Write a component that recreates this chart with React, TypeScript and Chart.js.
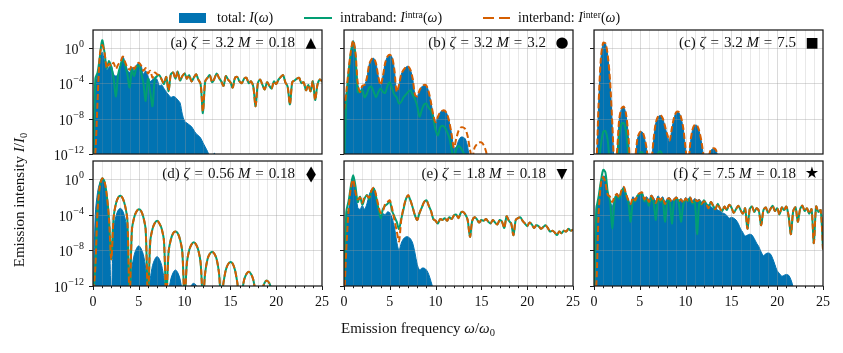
import React, { useEffect, useRef } from 'react';
import { Chart, registerables } from 'chart.js';

Chart.register(...registerables);

// ---------- data (log10 of I/I0), sampled on omega/omega0 ----------
const Z = -16; // far below the 1e-12 floor: nothing visible
const W = -13.5; // zero of a lobe (just below the floor)

const OMEGA = [
  0, 0.25, 0.5, 0.75, 1, 1.25, 1.5, 1.75, 2, 2.25, 2.5, 2.75, 3, 3.25, 3.5, 3.75, 4, 4.25, 4.5, 4.75,
  5, 5.25, 5.5, 5.75, 6, 6.25, 6.5, 6.75, 7, 7.25, 7.5, 7.75, 8, 8.25, 8.5, 8.75, 9, 9.25, 9.5, 9.75,
  10, 10.25, 10.5, 10.75, 11, 11.25, 11.5, 11.75, 12, 12.25, 12.5, 12.75, 13, 13.25, 13.5, 13.75, 14, 14.25, 14.5, 14.75,
  15, 15.25, 15.5, 15.75, 16, 16.25, 16.5, 16.75, 17, 17.25, 17.5, 17.75, 18, 18.25, 18.5, 18.75, 19, 19.25, 19.5, 19.75,
  20, 20.25, 20.5, 20.75, 21, 21.25, 21.5, 21.75, 22, 22.25, 22.5, 22.75, 23, 23.25, 23.5, 23.75, 24, 24.25, 24.5, 24.75,
  25,
];

const X_TICKS = [0, 1, 2, 3, 4, 5, 6, 7, 8, 9, 10, 11, 12, 13, 14, 15, 16, 17, 18, 19, 20, 21, 22, 23, 24, 25];
const X_LABELED = [0, 5, 10, 15, 20, 25];
const Y_TICKS = [-12, -8, -4, 0];

// (a) zeta=3.2, M=0.18
const A_TOTAL = [
  -14, -4, -3, -1.5, -0.5, -1.5, -2.5, -2.2, -2.0, -3.0, -3.2, -3.0, -2.0, -1.0, -1.6, -2.5, -2.8, -2.2, -2.6, -2.0,
  -1.7, -2.0, -3.0, -2.6, -3.2, -3.8, -3.6, -3.4, -3.6, -4.3, -4.2, -4.6, -5.0, -5.3, -5.6, -5.5, -5.6, -5.9, -6.2, -7.5,
  -8.3, -8.5, -8.7, -8.9, -9.3, -9.7, -9.9, -10.2, -10.7, -11.2, -11.7, -12.3, -12.5, -11.9, -12.5, Z, Z, Z, Z, Z,
  Z, Z, Z, Z, Z, Z, Z, Z, Z, Z, Z, Z, Z, Z, Z, Z, Z, Z, Z, Z,
  Z, Z, Z, Z, Z, Z, Z, Z, Z, Z, Z, Z, Z, Z, Z, Z, Z, Z, Z, Z,
  Z,
];
const A_INTRA = [
  -14, -3.5, -2.8, -1.0, 0.85, -0.5, -2.3, -1.5, -2.2, -3.5, -5.5, -3.0, -2.0, -1.3, -2.0, -3.0, -4.5, -2.5, -3.2, -2.2,
  -2.0, -2.8, -4.0, -6.0, -3.5, -5.0, -6.6, -3.5, -3.2, -3.1, -3.6, -4.1, -3.3, -4.9, -3.0, -2.8, -3.5, -2.7, -3.7, -3.2,
  -2.9, -3.5, -3.1, -3.8, -3.4, -3.0, -3.6, -4.1, -7.4, -3.8, -3.4, -3.1, -3.9, -3.5, -2.9, -3.4, -3.8, -4.3, -3.2, -3.6,
  -3.9, -4.5, -3.4, -3.3, -3.8, -4.0, -3.5, -3.4, -4.0, -3.8, -4.4, -6.6, -4.0, -3.6, -4.2, -4.7, -3.9, -4.3, -4.6, -3.8,
  -4.1, -3.6, -3.3, -3.1, -3.9, -4.4, -6.4, -3.9, -3.7, -3.5, -3.4, -4.0, -3.9, -4.8, -4.2, -4.9, -3.8, -5.9, -4.2, -3.6,
  -3.8,
];
const A_INTER = [
  -14, -12, -6, -0.8, 0.3, -0.5, -2.3, -1.8, -2.1, -1.7, -2.4, -1.9, -1.6, -1.0, -1.6, -2.2, -2.5, -2.0, -2.4, -1.9,
  -1.7, -2.0, -2.6, -2.3, -2.9, -2.6, -3.4, -2.8, -3.0, -3.1, -3.6, -4.0, -3.3, -4.8, -3.0, -2.8, -3.5, -2.7, -3.7, -3.2,
  -2.9, -3.5, -3.1, -3.8, -3.4, -3.0, -3.6, -4.1, -7.2, -3.8, -3.4, -3.1, -3.9, -3.5, -2.9, -3.4, -3.8, -4.3, -3.2, -3.6,
  -3.9, -4.5, -3.4, -3.3, -3.8, -4.0, -3.5, -3.4, -4.0, -3.8, -4.4, -6.6, -4.0, -3.6, -4.2, -4.7, -3.9, -4.3, -4.6, -3.8,
  -4.1, -3.6, -3.3, -3.1, -3.9, -4.4, -6.4, -3.9, -3.7, -3.5, -3.4, -4.0, -3.9, -4.8, -4.2, -4.9, -3.8, -5.9, -4.2, -3.6,
  -3.8,
];

// (b) zeta=3.2, M=3.2
const B_TOTAL = [
  -6.5, -5.0, -2.5, -0.4, 0.8, -0.5, -4.0, -5.0, -4.3, -4.2, -3.4, -1.9, -1.3, -1.2, -1.8, -3.3, -4.2, -3.2, -1.7, -1.0,
  -0.8, -1.1, -2.5, -5.0, -4.2, -3.0, -2.5, -2.2, -2.1, -2.5, -3.5, -5.3, -5.5, -4.8, -4.4, -4.2, -4.3, -5.0, -6.2, -7.6,
  -8.4, -7.8, -7.3, -7.1, -7.1, -7.5, -8.4, -9.8, -11.3, -11.2, -10.5, -10.1, -10.1, -10.3, -11.2, -13, Z, Z, Z, Z,
  Z, Z, Z, Z, Z, Z, Z, Z, Z, Z, Z, Z, Z, Z, Z, Z, Z, Z, Z, Z,
  Z, Z, Z, Z, Z, Z, Z, Z, Z, Z, Z, Z, Z, Z, Z, Z, Z, Z, Z, Z,
  Z,
];
const B_INTRA = [
  -14, -6.0, -3.0, -0.6, 0.7, -1.0, -5.0, -5.0, -4.8, -5.6, -5.2, -4.5, -4.4, -5.0, -5.6, -5.0, -4.6, -5.0, -5.1, -4.3,
  -3.9, -4.6, -5.3, -5.6, -6.3, -6.1, -5.6, -5.3, -5.0, -4.8, -5.3, -5.8, -6.6, -7.8, -7.0, -6.4, -6.3, -6.8, -7.1, -8.0,
  -9.3, -9.9, -9.0, -8.8, -9.0, -9.5, -10.2, -11.5, -12.5, -11.5, -11.1, -11.3, -11.8, -12.1, -13, Z, Z, Z, Z, Z,
  Z, Z, Z, Z, Z, Z, Z, Z, Z, Z, Z, Z, Z, Z, Z, Z, Z, Z, Z, Z,
  Z, Z, Z, Z, Z, Z, Z, Z, Z, Z, Z, Z, Z, Z, Z, Z, Z, Z, Z, Z,
  Z,
];
const B_INTER = [
  -7.0, -5.0, -2.5, -0.4, 0.8, -0.5, -4.0, -5.0, -4.3, -4.2, -3.4, -1.9, -1.3, -1.2, -1.8, -3.3, -4.2, -3.2, -1.7, -1.0,
  -0.8, -1.1, -2.5, -5.0, -4.2, -3.0, -2.5, -2.2, -2.1, -2.5, -3.5, -5.3, -5.5, -4.8, -4.4, -4.2, -4.3, -5.0, -6.2, -7.6,
  -8.4, -7.8, -7.3, -7.1, -7.1, -7.5, -8.4, -9.8, -11.3, -10.3, -9.4, -9.0, -9.0, -9.2, -10.0, -11.5, -12.5, -11.3, -10.9, -10.7,
  -10.7, -11.0, -11.7, -13, Z, Z, Z, Z, Z, Z, Z, Z, Z, Z, Z, Z, Z, Z, Z, Z,
  Z, Z, Z, Z, Z, Z, Z, Z, Z, Z, Z, Z, Z, Z, Z, Z, Z, Z, Z, Z,
  Z,
];

// (c) zeta=3.2, M=7.5
const C_TOTAL = [
  Z, W, -6.5, -1.3, 0.5, 0.45, -0.9, -3.8, -8.8, W, -12, -8.2, -6.9, -6.7, -7.6, -10, W, W, -12.5, -10.3,
  -9.6, -9.5, -10.2, -11.5, W, -13, -10.5, -8.5, -7.8, -7.65, -8.0, -8.9, -9.9, -10.6, -9.2, -7.9, -7.3, -7.3, -7.9, -9.2,
  -11.5, W, -11.0, -9.3, -8.75, -8.8, -9.5, -10.8, -12.5, W, -12.5, -11.6, -11.4, -11.5, -12.2, W, Z, Z, Z, Z,
  Z, Z, Z, Z, Z, Z, Z, Z, Z, Z, Z, Z, Z, Z, Z, Z, Z, Z, Z, Z,
  Z, Z, Z, Z, Z, Z, Z, Z, Z, Z, Z, Z, Z, Z, Z, Z, Z, Z, Z, Z,
  Z,
];
const C_INTRA = [
  Z, Z, W, -11, -9.5, -9.4, -10.5, -13, W, Z, W, -10, -8.6, -8.5, -9.5, -12, W, Z, Z, W,
  -11.9, -11.8, -12.3, W, Z, Z, Z, W, -11.9, -11.7, -12.2, W, Z, Z, Z, Z, Z, Z, Z, Z,
  Z, Z, Z, Z, Z, Z, Z, Z, Z, Z, Z, Z, Z, Z, Z, Z, Z, Z, Z, Z,
  Z, Z, Z, Z, Z, Z, Z, Z, Z, Z, Z, Z, Z, Z, Z, Z, Z, Z, Z, Z,
  Z, Z, Z, Z, Z, Z, Z, Z, Z, Z, Z, Z, Z, Z, Z, Z, Z, Z, Z, Z,
  Z,
];
const C_INTER = [
  Z, W, -6.4, -1.2, 0.55, 0.5, -0.85, -3.7, -8.6, W, -11.9, -8.1, -6.85, -6.65, -7.5, -9.9, W, W, -12.4, -10.2,
  -9.55, -9.45, -10.1, -11.4, W, -12.9, -10.4, -8.45, -7.75, -7.6, -7.95, -8.85, -9.8, -10.5, -9.1, -7.85, -7.25, -7.25, -7.85, -9.1,
  -11.4, W, -10.9, -9.25, -8.7, -8.75, -9.45, -10.7, -12.4, W, -12.4, -11.55, -11.35, -11.45, -12.1, W, Z, Z, Z, Z,
  Z, Z, Z, Z, Z, Z, Z, Z, Z, Z, Z, Z, Z, Z, Z, Z, Z, Z, Z, Z,
  Z, Z, Z, Z, Z, Z, Z, Z, Z, Z, Z, Z, Z, Z, Z, Z, Z, Z, Z, Z,
  Z,
];

// (d) zeta=0.56, M=0.18
const D_TOTAL = [
  -14, -4, -1.5, -0.4, -0.1, -0.5, -2.0, -5.0, W, -5.6, -4.2, -3.5, -3.3, -3.6, -4.4, -6.0, W, -10.0, -8.5, -7.8,
  -7.5, -7.8, -8.5, -10.0, W, -11.2, -9.7, -9.0, -8.7, -9.0, -9.7, -11.2, W, -12.6, -11.2, -10.5, -10.2, -10.5, -11.2, -12.6,
  W, -13.2, -12.5, -11.9, -11.7, -11.9, -12.5, -13.2, W, Z, Z, Z, Z, Z, Z, Z, Z, Z, Z, Z,
  Z, Z, Z, Z, Z, Z, Z, Z, Z, Z, Z, Z, Z, Z, Z, Z, Z, Z, Z, Z,
  Z, Z, Z, Z, Z, Z, Z, Z, Z, Z, Z, Z, Z, Z, Z, Z, Z, Z, Z, Z,
  Z,
];
const D_INTRA = [
  W, -10, -3.5, -0.8, 0.05, -0.3, -1.8, -4.5, -9.0, -4.3, -2.8, -2.1, -1.9, -2.2, -3.0, -4.6, W, -5.7, -4.3, -3.65,
  -3.4, -3.6, -4.3, -5.7, W, -7.0, -5.6, -4.95, -4.7, -5.0, -5.6, -7.0, W, -8.2, -6.8, -6.1, -5.9, -6.1, -6.8, -8.2,
  W, -9.4, -8.0, -7.35, -7.1, -7.35, -8.0, -9.4, W, -10.5, -9.0, -8.4, -8.15, -8.4, -9.0, -10.5, W, -11.6, -10.2, -9.55,
  -9.3, -9.5, -10.2, -11.6, W, -12.7, -11.3, -10.65, -10.4, -10.65, -11.3, -12.7, W, -13.3, -12.3, -11.6, -11.4, -11.7, -12.4, -13.3,
  W, Z, Z, Z, Z, Z, Z, Z, Z, Z, Z, Z, Z, Z, Z, Z, Z, Z, Z, Z,
  Z,
];
const D_INTER = [
  W, -10, -3.5, -0.8, 0.05, -0.3, -1.8, -4.5, -9.0, -4.3, -2.8, -2.1, -1.9, -2.2, -3.0, -4.6, W, -5.7, -4.3, -3.65,
  -3.4, -3.6, -4.3, -5.7, W, -7.0, -5.6, -4.95, -4.7, -5.0, -5.6, -7.0, W, -8.2, -6.8, -6.1, -5.9, -6.1, -6.8, -8.2,
  W, -9.4, -8.0, -7.35, -7.1, -7.35, -8.0, -9.4, W, -10.5, -9.0, -8.4, -8.15, -8.4, -9.0, -10.5, W, -11.6, -10.2, -9.55,
  -9.3, -9.5, -10.2, -11.6, W, -12.7, -11.3, -10.65, -10.4, -10.65, -11.3, -12.7, W, -13.3, -12.3, -11.6, -11.4, -11.7, -12.4, -13.3,
  W, Z, Z, Z, Z, Z, Z, Z, Z, Z, Z, Z, Z, Z, Z, Z, Z, Z, Z, Z,
  Z,
];

// (e) zeta=1.8, M=0.18
const E_TOTAL = [
  -14, -3.8, -3.5, -1.0, 0.3, -1.2, -3.2, -3.4, -3.0, -3.4, -2.8, -1.8, -1.2, -1.0, -1.8, -3.6, -4.2, -3.9, -4.0, -3.7,
  -3.8, -4.4, -5.4, -7.0, -8.0, -7.2, -6.7, -6.5, -6.5, -6.7, -7.2, -8.3, -9.6, -10.2, -10.0, -10.0, -10.2, -10.7, -11.5, -12.5,
  Z, Z, Z, Z, Z, Z, Z, Z, Z, Z, Z, Z, Z, Z, Z, Z, Z, Z, Z, Z,
  Z, Z, Z, Z, Z, Z, Z, Z, Z, Z, Z, Z, Z, Z, Z, Z, Z, Z, Z, Z,
  Z, Z, Z, Z, Z, Z, Z, Z, Z, Z, Z, Z, Z, Z, Z, Z, Z, Z, Z, Z,
  Z,
];
const E_INTRA = [
  -14, -3.7, -2.5, -0.8, 0.4, -0.8, -2.6, -2.0, -2.9, -2.2, -1.8, -2.3, -1.4, -1.1, -2.0, -3.3, -4.4, -3.4, -3.0, -2.8,
  -2.5, -3.6, -4.2, -4.8, -5.6, -4.5, -3.4, -2.3, -1.9, -2.4, -3.2, -4.1, -4.6, -3.8, -3.2, -2.6, -2.4, -3.0, -3.6, -4.5,
  -4.7, -5.0, -4.5, -4.6, -4.4, -4.7, -4.3, -4.5, -4.1, -4.0, -4.4, -3.8, -3.7, -4.0, -4.6, -6.5, -4.7, -4.3, -4.5, -4.9,
  -4.6, -4.7, -4.5, -4.8, -5.0, -4.6, -4.9, -5.1, -4.6, -4.8, -5.5, -4.2, -4.7, -5.0, -6.3, -4.6, -4.4, -4.3, -4.7, -5.0,
  -5.3, -4.9, -5.1, -5.5, -5.2, -5.3, -5.6, -5.4, -5.2, -5.5, -5.9, -5.8, -6.0, -6.3, -5.9, -6.1, -5.8, -5.9, -5.6, -5.8,
  -5.7,
];
const E_INTER = [
  -14, -8, -3.5, -1.0, -0.1, -1.5, -2.3, -2.1, -2.7, -2.0, -1.9, -2.1, -1.3, -1.0, -1.8, -3.0, -3.8, -3.6, -2.8, -2.6,
  -2.4, -3.3, -4.6, -5.8, -7.0, -4.6, -3.2, -2.3, -1.8, -2.4, -3.2, -4.1, -4.6, -3.8, -3.2, -2.6, -2.4, -3.0, -3.6, -4.5,
  -4.7, -5.0, -4.5, -4.6, -4.4, -4.7, -4.3, -4.5, -4.1, -4.0, -4.4, -3.8, -3.7, -4.0, -4.6, -6.5, -4.7, -4.3, -4.5, -4.9,
  -4.6, -4.7, -4.5, -4.8, -5.0, -4.6, -4.9, -5.1, -4.6, -4.8, -5.5, -4.2, -4.7, -5.0, -6.3, -4.6, -4.4, -4.3, -4.7, -5.0,
  -5.3, -4.9, -5.1, -5.5, -5.2, -5.3, -5.6, -5.4, -5.2, -5.5, -5.9, -5.8, -6.0, -6.3, -5.9, -6.1, -5.8, -5.9, -5.6, -5.8,
  -5.7,
];

// (f) zeta=7.5, M=0.18
const F_TOTAL = [
  -14, -3, -2.6, -1.0, 0.3, 0.2, -1.5, -2.5, -3.0, -2.2, -1.6, -2.0, -1.3, -0.9, -1.6, -2.3, -2.8, -2.0, -2.3, -1.8,
  -1.6, -1.5, -2.2, -2.0, -2.4, -1.8, -2.1, -2.5, -1.9, -2.3, -2.0, -2.6, -2.2, -2.1, -2.5, -2.2, -2.0, -2.4, -2.2, -2.6,
  -2.1, -2.3, -2.0, -2.5, -2.2, -2.4, -2.3, -2.6, -2.5, -2.8, -2.9, -3.1, -3.3, -3.2, -3.5, -3.6, -3.8, -3.9, -4.1, -4.4,
  -4.3, -4.4, -4.6, -5.0, -5.6, -6.0, -6.4, -6.3, -6.2, -6.3, -6.7, -7.2, -7.6, -8.2, -8.6, -8.4, -8.3, -8.4, -8.9, -9.6,
  -10.3, -10.6, -10.9, -10.8, -10.7, -10.8, -11.3, -12.2, Z, Z, Z, Z, Z, Z, Z, Z, Z, Z, Z, Z,
  Z,
];
const F_INTRA = [
  -14, -3.5, -2.0, -0.3, 1.0, 0.7, -1.5, -2.5, -5.6, -2.5, -1.8, -2.2, -1.4, -1.1, -1.9, -2.6, -4.8, -2.4, -2.5, -1.9,
  -1.7, -1.7, -2.5, -2.3, -3.0, -2.1, -2.6, -4.6, -2.2, -2.6, -2.3, -4.8, -2.6, -2.3, -5.0, -2.5, -2.2, -2.7, -4.8, -2.9,
  -2.3, -2.5, -2.2, -2.8, -2.5, -6.2, -2.6, -2.9, -2.4, -2.8, -3.3, -2.6, -3.0, -3.4, -2.8, -3.3, -3.6, -3.1, -3.5, -2.9,
  -3.2, -3.8, -3.4, -3.0, -3.5, -3.9, -3.3, -5.6, -3.4, -3.1, -3.7, -3.3, -3.6, -5.2, -3.5, -3.2, -3.8, -3.4, -3.0, -3.6,
  -3.3, -4.0, -3.2, -3.5, -3.1, -4.2, -6.2, -3.6, -3.2, -4.8, -3.4, -3.0, -3.6, -3.3, -3.9, -3.4, -7.2, -3.1, -3.7, -3.5,
  -7.9,
];
const F_INTER = [
  -14, -12, -4, -0.6, 0.2, -0.5, -1.8, -2.0, -2.6, -2.0, -1.7, -2.1, -1.3, -0.9, -1.7, -2.4, -2.8, -2.1, -2.4, -1.8,
  -1.6, -1.5, -2.3, -2.0, -2.6, -1.9, -2.3, -2.7, -2.0, -2.4, -2.1, -2.8, -2.3, -2.2, -2.6, -2.3, -2.1, -2.5, -2.3, -2.7,
  -2.2, -2.4, -2.1, -2.6, -2.3, -2.5, -2.4, -2.8, -2.5, -2.8, -3.3, -2.6, -3.0, -3.4, -2.8, -3.3, -3.6, -3.1, -3.5, -2.9,
  -3.2, -3.8, -3.4, -3.0, -3.5, -3.9, -3.3, -5.6, -3.4, -3.1, -3.7, -3.3, -3.6, -5.2, -3.5, -3.2, -3.8, -3.4, -3.0, -3.6,
  -3.3, -4.0, -3.2, -3.5, -3.1, -4.2, -6.2, -3.6, -3.2, -4.8, -3.4, -3.0, -3.6, -3.3, -3.9, -3.4, -7.2, -3.1, -3.7, -3.5,
  -7.9,
];

const PANELS = [
  { tag: '(a)', zeta: '3.2', m: '0.18', marker: '▲', total: A_TOTAL, intra: A_INTRA, inter: A_INTER },
  { tag: '(b)', zeta: '3.2', m: '3.2', marker: '●', total: B_TOTAL, intra: B_INTRA, inter: B_INTER },
  { tag: '(c)', zeta: '3.2', m: '7.5', marker: '■', total: C_TOTAL, intra: C_INTRA, inter: C_INTER },
  { tag: '(d)', zeta: '0.56', m: '0.18', marker: '◆', total: D_TOTAL, intra: D_INTRA, inter: D_INTER },
  { tag: '(e)', zeta: '1.8', m: '0.18', marker: '▼', total: E_TOTAL, intra: E_INTRA, inter: E_INTER },
  { tag: '(f)', zeta: '7.5', m: '0.18', marker: '★', total: F_TOTAL, intra: F_INTRA, inter: F_INTER },
];

// ---------- style / layout ----------
const COL_TOTAL = '#0173B2';
const COL_INTRA = '#029E73';
const COL_INTER = '#D55E00';
const SERIF = '"Liberation Serif", "Times New Roman", serif';
const COL_X = [93, 344, 594];
const ROW_Y = [30, 161];
const PW = 229;
const PH = [124, 125];
const PAD = { left: 60, right: 12, top: 4, bottom: 30 };

const MARKER_STYLE: Record<string, { size: number; sx: number }> = {
  '▲': { size: 14, sx: 1 },
  '●': { size: 15, sx: 1 },
  '■': { size: 14, sx: 1 },
  '◆': { size: 21, sx: 0.6 },
  '▼': { size: 14, sx: 1 },
  '★': { size: 16, sx: 1 },
};

const SUPER: Record<string, string> = { '-': '\u2212' };

function decoPlugin(showYLabels: boolean, showXAxis: boolean) {
  return {
    id: 'deco',
    afterDatasetDraw(chart: any, args: any) {
      if (args.index !== 2) return;
      const { ctx, chartArea: a } = chart;
      const xs = chart.scales.x;
      const ys = chart.scales.y;
      ctx.save();
      ctx.beginPath();
      ctx.rect(a.left, a.top, a.right - a.left, a.bottom - a.top);
      ctx.clip();
      ctx.lineWidth = 0.8;
      for (const v of X_TICKS) {
        const px = Math.round(xs.getPixelForValue(v)) + 0.5;
        ctx.strokeStyle = v % 5 === 0 ? 'rgba(150,150,150,0.45)' : 'rgba(150,150,150,0.28)';
        ctx.beginPath();
        ctx.moveTo(px, a.top);
        ctx.lineTo(px, a.bottom);
        ctx.stroke();
      }
      ctx.strokeStyle = 'rgba(150,150,150,0.45)';
      for (const v of Y_TICKS) {
        const py = Math.round(ys.getPixelForValue(v)) + 0.5;
        ctx.beginPath();
        ctx.moveTo(a.left, py);
        ctx.lineTo(a.right, py);
        ctx.stroke();
      }
      ctx.restore();
    },
    afterDraw(chart: any) {
      const { ctx, chartArea: a } = chart;
      const xs = chart.scales.x;
      const ys = chart.scales.y;
      ctx.save();
      ctx.strokeStyle = '#1a1a1a';
      ctx.lineWidth = 1.25;
      ctx.strokeRect(a.left, a.top, a.right - a.left, a.bottom - a.top);
      ctx.lineWidth = 1;
      for (const v of Y_TICKS) {
        const py = Math.round(ys.getPixelForValue(v)) + 0.5;
        ctx.beginPath();
        ctx.moveTo(a.left - 4, py);
        ctx.lineTo(a.left, py);
        ctx.stroke();
        if (showYLabels) {
          const exp = String(v).split('').map((ch) => SUPER[ch] || ch).join('');
          ctx.fillStyle = '#111';
          ctx.textAlign = 'right';
          ctx.textBaseline = 'middle';
          ctx.font = `10px ${SERIF}`;
          const ew = ctx.measureText(exp).width;
          const right = a.left - 9;
          ctx.fillText(exp, right, py - 4);
          ctx.font = `14px ${SERIF}`;
          ctx.fillText('10', right - ew - 0.5, py + 1.5);
        }
      }
      if (showXAxis) {
        for (const v of X_TICKS) {
          const px = Math.round(xs.getPixelForValue(v)) + 0.5;
          const major = v % 5 === 0;
          ctx.beginPath();
          ctx.moveTo(px, a.bottom);
          ctx.lineTo(px, a.bottom + (major ? 4 : 2.2));
          ctx.stroke();
        }
        ctx.fillStyle = '#111';
        ctx.textAlign = 'center';
        ctx.textBaseline = 'middle';
        ctx.font = `14px ${SERIF}`;
        for (const v of X_LABELED) {
          ctx.fillText(String(v), xs.getPixelForValue(v), a.bottom + 16);
        }
      }
      ctx.restore();
    },
  };
}

function Panel({ idx }: { idx: number }) {
  const ref = useRef<HTMLCanvasElement | null>(null);
  const info = PANELS[idx];
  const col = idx % 3;
  const row = Math.floor(idx / 3);
  const w = PW + PAD.left + PAD.right;
  const h = PH[row] + PAD.top + PAD.bottom;

  useEffect(() => {
    const pts = (arr: number[]) => OMEGA.map((x, i) => ({ x, y: arr[i] }));
    const chart = new Chart(ref.current as HTMLCanvasElement, {
      type: 'line',
      data: {
        datasets: [
          {
            label: 'interband',
            data: pts(info.inter),
            borderColor: COL_INTER,
            borderWidth: 2,
            borderDash: [6, 3],
            pointRadius: 0,
            fill: false,
            tension: 0.3,
            order: 0,
          },
          {
            label: 'intraband',
            data: pts(info.intra),
            borderColor: COL_INTRA,
            borderWidth: 2,
            pointRadius: 0,
            fill: false,
            tension: 0.3,
            order: 1,
          },
          {
            label: 'total',
            data: pts(info.total),
            borderColor: COL_TOTAL,
            backgroundColor: COL_TOTAL,
            borderWidth: 1,
            pointRadius: 0,
            fill: 'start',
            tension: 0.3,
            order: 2,
          },
        ],
      } as any,
      options: {
        responsive: false,
        maintainAspectRatio: false,
        animation: false,
        events: [],
        layout: { padding: PAD },
        plugins: { legend: { display: false }, tooltip: { enabled: false } },
        scales: {
          x: { type: 'linear', min: 0, max: 25, display: false },
          y: { type: 'linear', min: -12, max: 2, display: false },
        },
      } as any,
      plugins: [decoPlugin(col === 0, row === 1)],
    });
    return () => chart.destroy();
  }, []);

  const plotRight = COL_X[col] + PW;
  const textY = ROW_Y[row] + 12;
  const ms = MARKER_STYLE[info.marker];
  return (
    <>
      <canvas
        ref={ref}
        width={w}
        height={h}
        style={{ position: 'absolute', left: COL_X[col] - PAD.left, top: ROW_Y[row] - PAD.top, width: w, height: h }}
      />
      <div
        style={{
          position: 'absolute',
          right: 843 - (plotRight - 27),
          top: textY,
          transform: 'translateY(-50%)',
          font: `15px ${SERIF}`,
          lineHeight: '1',
          whiteSpace: 'nowrap',
          color: '#111',
        }}
      >
        {info.tag} <i>ζ</i>
        <span style={{ margin: '0 0.33em' }}>=</span>
        {info.zeta} <i>M</i>
        <span style={{ margin: '0 0.33em' }}>=</span>
        {info.m}
      </div>
      <div
        style={{
          position: 'absolute',
          left: plotRight - 11,
          top: textY,
          transform: `translate(-50%,-50%) scaleX(${ms.sx})`,
          font: `${ms.size}px "DejaVu Sans", sans-serif`,
          lineHeight: '1',
          color: '#000',
        }}
      >
        {info.marker}
      </div>
    </>
  );
}

const sup = (t: string) => (
  <span style={{ fontSize: '0.7em', position: 'relative', top: '-0.45em' }}>{t}</span>
);
const sub = (t: string) => (
  <span style={{ fontSize: '0.7em', position: 'relative', top: '0.25em' }}>{t}</span>
);

export default function App() {
  const text: React.CSSProperties = {
    position: 'absolute',
    font: `14px ${SERIF}`,
    lineHeight: '1',
    whiteSpace: 'nowrap',
    color: '#111',
    transform: 'translateY(-50%)',
  };
  return (
    <div style={{ position: 'fixed', left: 0, top: 0, width: 843, height: 353, background: '#fff', overflow: 'hidden' }}>
      {PANELS.map((_, i) => (
        <Panel key={i} idx={i} />
      ))}
      <div style={{ position: 'absolute', left: 179, top: 13, width: 27, height: 10, background: COL_TOTAL }} />
      <div style={{ ...text, left: 217, top: 18 }}>
        total: <i>I</i>(<i>ω</i>)
      </div>
      <div style={{ position: 'absolute', left: 304, top: 17, width: 28, height: 2, background: COL_INTRA }} />
      <div style={{ ...text, left: 340, top: 18 }}>
        intraband: <i>I</i>
        {sup('intra')}(<i>ω</i>)
      </div>
      <div style={{ position: 'absolute', left: 483, top: 17, width: 11, height: 2, background: COL_INTER }} />
      <div style={{ position: 'absolute', left: 499, top: 17, width: 11, height: 2, background: COL_INTER }} />
      <div style={{ ...text, left: 518, top: 18 }}>
        interband: <i>I</i>
        {sup('inter')}(<i>ω</i>)
      </div>
      <div
        style={{
          position: 'absolute',
          left: 19,
          top: 200,
          transform: 'translate(-50%,-50%) rotate(-90deg)',
          font: `15px ${SERIF}`,
          lineHeight: '1',
          whiteSpace: 'nowrap',
          color: '#111',
        }}
      >
        Emission intensity <i>I</i>/<i>I</i>
        {sub('0')}
      </div>
      <div
        style={{
          position: 'absolute',
          left: 418,
          top: 328,
          transform: 'translate(-50%,-50%)',
          font: `15px ${SERIF}`,
          lineHeight: '1',
          whiteSpace: 'nowrap',
          color: '#111',
        }}
      >
        Emission frequency <i>ω</i>/<i>ω</i>
        {sub('0')}
      </div>
    </div>
  );
}
